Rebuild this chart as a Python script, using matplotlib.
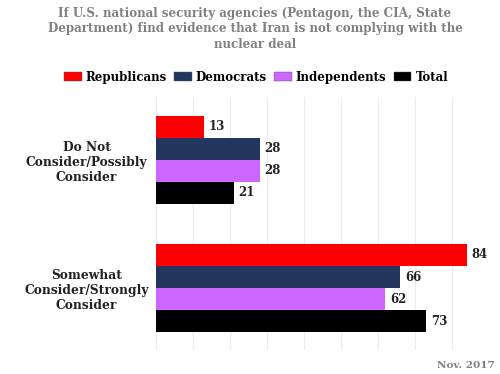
import numpy as np
import matplotlib.pyplot as plt
from matplotlib.patches import Patch

categories = ['Do Not\nConsider/Possibly\nConsider', 'Somewhat\nConsider/Strongly\nConsider']
series_names = ['Republicans', 'Democrats', 'Independents', 'Total']
republicans = [13, 84]
democrats = [28, 66]
independents = [28, 62]
total = [21, 73]
colors = ['#ff0000', '#23365f', '#cc66ff', '#000000']

plt.rcParams['font.family'] = 'DejaVu Serif'
plt.rcParams['font.weight'] = 'bold'

fig = plt.figure(figsize=(5, 3.74), dpi=100)
ax = fig.add_axes([0.312, 0.064, 0.666, 0.677])

y = np.arange(len(categories))
h = 0.172
values = [republicans, democrats, independents, total]
for i, (vals, c) in enumerate(zip(values, colors)):
  pos = y + (i - 1.5) * h
  ax.barh(pos, vals, height=h, color=c, zorder=3)
  for p, v in zip(pos, vals):
    ax.text(v + 1.3, p, str(v), va='center', ha='left', fontsize=8.5, fontweight='bold', color='#222222')

ax.set_xlim(0, 90)
ax.set_ylim(1.484, -0.492)
ax.set_xticks(np.arange(0, 91, 10))
ax.xaxis.grid(True, color='#ececec', linewidth=0.8, zorder=0)
ax.tick_params(axis='x', length=0, labelbottom=False)
ax.set_yticks(y)
ax.set_yticklabels(categories, fontsize=8.8, fontweight='bold', ha='center', color='#222222')
ax.tick_params(axis='y', length=0, pad=50)
for s in ax.spines.values():
  s.set_visible(False)

fig.text(0.51, 0.982, 'If U.S. national security agencies (Pentagon, the CIA, State\nDepartment) find evidence that Iran is not complying with the\nnuclear deal',
         ha='center', va='top', fontsize=8.6, fontweight='bold', color='#808080', linespacing=1.25)

handles = [Patch(facecolor=c, edgecolor='#555555', linewidth=0.3) for c in colors]
fig.legend(handles, series_names, loc='center', bbox_to_anchor=(0.512, 0.794), ncol=4, frameon=False,
           prop={'size': 8.5, 'weight': 'bold'}, handlelength=1.5, handleheight=0.9, columnspacing=0.6, handletextpad=0.35)

fig.text(0.99, 0.012, 'Nov. 2017', ha='right', va='bottom', fontsize=7.5, fontweight='bold', color='#808080')

fig.savefig('out.png', dpi=100)
